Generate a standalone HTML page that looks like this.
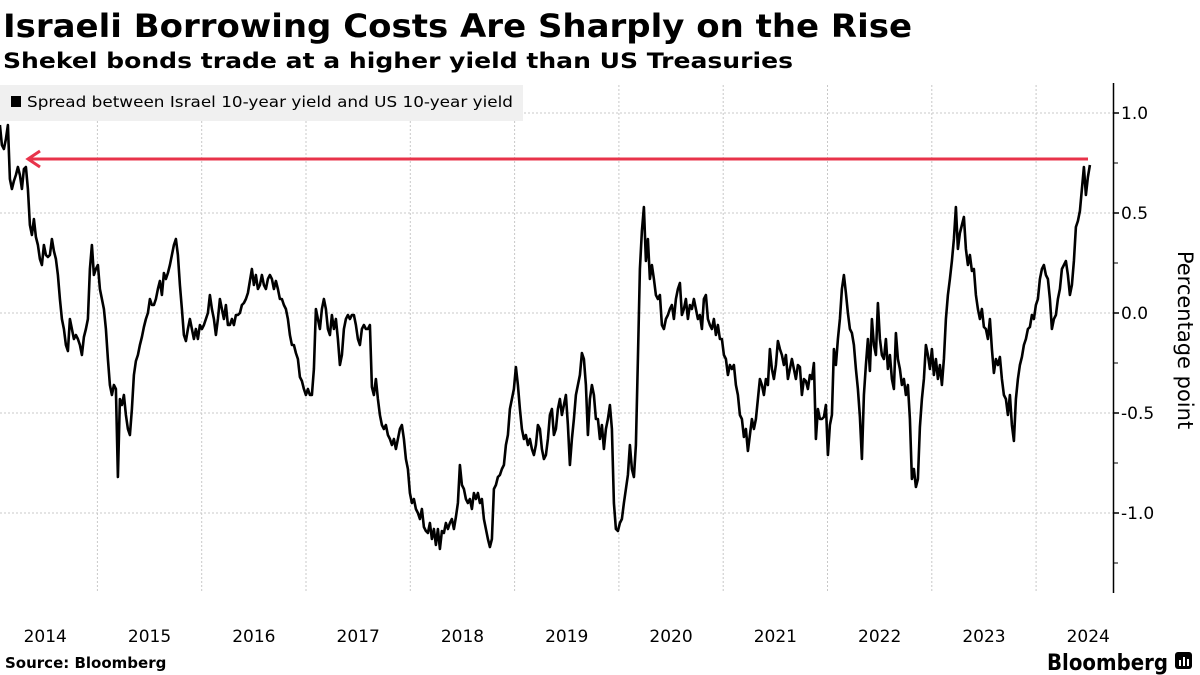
<!DOCTYPE html>
<html><head><meta charset="utf-8">
<style>
html,body{margin:0;padding:0;background:#fff;}
svg{display:block;font-family:"DejaVu Sans","Liberation Sans",sans-serif;}
</style></head>
<body>
<svg id="chart" width="1200" height="675" viewBox="0 0 1200 675" xmlns="http://www.w3.org/2000/svg">
  <text x="3" y="37" font-size="32" font-weight="bold" fill="#000" textLength="909" lengthAdjust="spacingAndGlyphs">Israeli Borrowing Costs Are Sharply on the Rise</text>
  <text x="3" y="68" font-size="21" font-weight="bold" fill="#000" textLength="790" lengthAdjust="spacingAndGlyphs">Shekel bonds trade at a higher yield than US Treasuries</text>
  <g id="grid"></g>
  <g>
    <rect x="0" y="85" width="523" height="36" fill="#f0f0f0"/>
    <rect x="11" y="96" width="10" height="11" fill="#000"/>
    <text x="27" y="107" font-size="15" fill="#000" textLength="486" lengthAdjust="spacingAndGlyphs">Spread between Israel 10-year yield and US 10-year yield</text>
  </g>
  <g id="marks"></g>
  <g id="axes"></g>
  <text transform="translate(1178,340) rotate(90)" text-anchor="middle" font-size="21" fill="#000">Percentage point</text>
  <text x="5" y="668" font-size="15" font-weight="bold" fill="#000">Source: Bloomberg</text>
  <text x="1047" y="670" font-size="22" font-weight="bold" fill="#000" textLength="121" lengthAdjust="spacingAndGlyphs">Bloomberg</text>
  <g>
    <rect x="1175" y="652" width="17" height="17" rx="3" fill="#000"/>
    <rect x="1179" y="660" width="2" height="6" fill="#fff"/>
    <rect x="1183" y="657" width="2" height="9" fill="#fff"/>
    <rect x="1187" y="659" width="2" height="7" fill="#fff"/>
  </g>
</svg>
<script>
const startYear = 2014.065;
const stepYears = 0.019175;
const values = [
.94,.84,.82,.87,.94,.67,.62,.66,.69,.73,.69,.62,.72,.73,.62,.44,.39,.47,.38,.34,.27,
.24,.34,.29,.28,.29,.37,.31,.27,.19,.07,-.03,-.08,-.16,-.19,-.03,-.08,-.13,-.11,-.13,-.16,-.21,-.12,-.08,-.03,.22,.34,.19,.22,.24,.12,
.07,.02,-.08,-.23,-.36,-.41,-.36,-.38,-.82,-.43,-.46,-.41,-.51,-.58,-.61,-.48,-.31,-.24,-.21,-.16,-.12,-.07,-.03,0,.07,
.04,.04,.07,.12,.16,.09,.2,.17,.2,.24,.29,.34,.37,.29,.14,.02,-.11,-.14,-.08,-.03,-.08,-.13,-.08,-.13,-.06,
-.08,-.06,-.03,0,.09,.02,-.03,-.11,-.03,.07,.02,-.03,.04,-.06,-.06,-.03,-.06,-.01,-.01,0,.04,.05,.07,.1,.16,
.22,.14,.19,.12,.14,.19,.14,.12,.17,.19,.17,.12,.16,.12,.07,.07,.04,.02,-.03,-.11,-.16,-.16,-.2,-.23,-.32,
-.34,-.38,-.41,-.38,-.41,-.41,-.28,.02,-.03,-.08,.02,.07,.02,-.08,-.11,-.01,-.08,-.03,-.13,-.26,-.21,-.08,-.03,-.01,-.03,
-.01,-.01,-.06,-.13,-.16,-.08,-.06,-.08,-.08,-.06,-.37,-.41,-.33,-.43,-.51,-.56,-.58,-.56,-.61,-.63,-.66,-.63,-.68,-.63,-.58,
-.56,-.63,-.73,-.78,-.9,-.95,-.93,-.98,-1.0,-1.03,-.98,-1.07,-1.09,-1.1,-1.05,-1.13,-1.08,-1.16,-1.08,-1.18,-1.09,-1.1,-1.05,-1.08,-1.05,
-1.03,-1.08,-1.02,-.95,-.76,-.86,-.88,-.93,-.95,-.93,-.98,-.9,-.93,-.9,-.95,-.93,-1.03,-1.08,-1.13,-1.17,-1.13,-.88,-.86,-.82,-.81,
-.78,-.76,-.66,-.61,-.48,-.43,-.38,-.27,-.36,-.48,-.58,-.63,-.61,-.66,-.63,-.68,-.71,-.66,-.56,-.58,-.68,-.73,-.71,-.63,-.51,
-.48,-.61,-.58,-.48,-.43,-.51,-.46,-.41,-.56,-.76,-.63,-.53,-.41,-.36,-.31,-.2,-.23,-.36,-.61,-.43,-.36,-.41,-.53,-.53,-.63,
-.56,-.68,-.58,-.53,-.46,-.58,-.95,-1.08,-1.09,-1.05,-1.03,-.95,-.88,-.81,-.66,-.78,-.82,-.66,-.23,.22,.41,.53,.26,.37,.17,
.24,.17,.09,.07,.09,-.06,-.08,-.03,-.01,.02,.04,-.03,.07,.12,.15,-.01,.02,.07,-.03,.04,.02,.07,.02,-.03,-.01,
-.08,.07,.09,-.03,-.06,-.08,-.03,-.11,-.06,-.13,-.13,-.21,-.23,-.31,-.26,-.28,-.26,-.36,-.41,-.51,-.53,-.62,-.58,-.69,-.61,
-.53,-.58,-.53,-.43,-.33,-.36,-.41,-.33,-.36,-.18,-.28,-.33,-.26,-.14,-.18,-.21,-.26,-.21,-.33,-.28,-.23,-.28,-.33,-.26,-.27,
-.41,-.33,-.34,-.38,-.31,-.33,-.25,-.63,-.48,-.53,-.53,-.52,-.46,-.71,-.56,-.51,-.18,-.26,-.13,-.03,.12,.19,.1,0,-.08,
-.1,-.16,-.28,-.38,-.52,-.73,-.41,-.26,-.13,-.29,-.03,-.16,-.21,.05,-.13,-.21,-.23,-.13,-.28,-.21,-.33,-.38,-.1,-.23,-.28,
-.36,-.33,-.41,-.36,-.53,-.83,-.78,-.87,-.83,-.57,-.43,-.33,-.16,-.21,-.28,-.18,-.31,-.23,-.33,-.26,-.36,-.23,-.03,.09,.17,
.26,.37,.53,.32,.4,.44,.48,.32,.24,.29,.21,.22,.09,.02,-.03,.02,-.07,-.08,-.13,-.03,-.18,-.3,-.23,-.26,-.22,
-.33,-.41,-.43,-.51,-.41,-.56,-.64,-.43,-.33,-.26,-.22,-.16,-.13,-.08,-.07,-.01,-.03,.04,.07,.17,.22,.24,.19,.17,.07,
-.08,-.03,-.01,.07,.12,.22,.24,.26,.19,.09,.14,.26,.43,.46,.51,.62,.73,.59,.68,.74
];
const yTicks = [1.0, 0.5, 0.0, -0.5, -1.0];
const yTickLabels = ["1.0", "0.5", "0.0", "-0.5", "-1.0"];
const yMinorTicks = [0.75, 0.25, -0.25, -0.75, -1.25];
const xYears = [2014, 2015, 2016, 2017, 2018, 2019, 2020, 2021, 2022, 2023, 2024];
const xLabels = ["2014","2015","2016","2017","2018","2019","2020","2021","2022","2023","2024"];
const refLevel = 0.77;

const NS = "http://www.w3.org/2000/svg";
const xScale = yr => 201.7 + (yr - 2016) * 104.3;
const yScale = v => 313 - v * 200;
const plotRight = 1113, plotTop = 85, plotBottom = 592;

function mk(tag, attrs, parent) {
  const el = document.createElementNS(NS, tag);
  for (const k in attrs) el.setAttribute(k, attrs[k]);
  parent.appendChild(el);
  return el;
}
const grid = document.getElementById('grid');
const axes = document.getElementById('axes');
const marks = document.getElementById('marks');

yTicks.forEach((t, i) => {
  const y = yScale(t);
  const g = mk('line', {x1: 0, x2: plotRight, y1: y, y2: y, stroke: '#c8c8c8', 'stroke-width': 1, 'stroke-dasharray': '2,2'}, grid);
  
  
  const tk = mk('line', {x1: plotRight, x2: plotRight + 6, y1: y, y2: y, stroke: '#000', 'stroke-width': 1.5}, axes);
  
  
  const lb = mk('text', {x: 1121, y: y + 6, 'font-size': 17, fill: '#000'}, axes);
  lb.textContent = yTickLabels[i];
  
  
});
yMinorTicks.forEach(t => {
  const y = yScale(t);
  const tk = mk('line', {x1: plotRight, x2: plotRight + 5, y1: y, y2: y, stroke: '#000', 'stroke-width': 1}, axes);
  
  
});
xYears.forEach((yr, i) => {
  const x = xScale(yr);
  if (x > 2) {
    const g = mk('line', {x1: x, x2: x, y1: plotTop, y2: plotBottom, stroke: '#c8c8c8', 'stroke-width': 1, 'stroke-dasharray': '2,2'}, grid);
    
    
  }
  const lb = mk('text', {x: xScale(yr + 0.5), y: 642, 'font-size': 17, fill: '#000', 'text-anchor': 'middle'}, axes);
  lb.textContent = xLabels[i];
  
  
});
const ax = mk('line', {x1: plotRight + 0.5, x2: plotRight + 0.5, y1: 83, y2: 593, stroke: '#000', 'stroke-width': 1.5}, axes);



const ry = yScale(refLevel);
const ref = mk('line', {x1: 28, x2: 1088, y1: ry, y2: ry, stroke: '#e8334a', 'stroke-width': 3}, marks);


const head = mk('polyline', {points: `40,${ry-8} 28,${ry} 40,${ry+8}`, fill: 'none', stroke: '#e8334a', 'stroke-width': 3}, marks);



let d = '';
values.forEach((v, i) => {
  const x = xScale(startYear + i * stepYears);
  d += (i ? 'L' : 'M') + x.toFixed(1) + ',' + yScale(v).toFixed(1);
});
const line = mk('path', {d: d, fill: 'none', stroke: '#000', 'stroke-width': 2.6, 'stroke-linejoin': 'round'}, marks);


</script>
</body></html>
